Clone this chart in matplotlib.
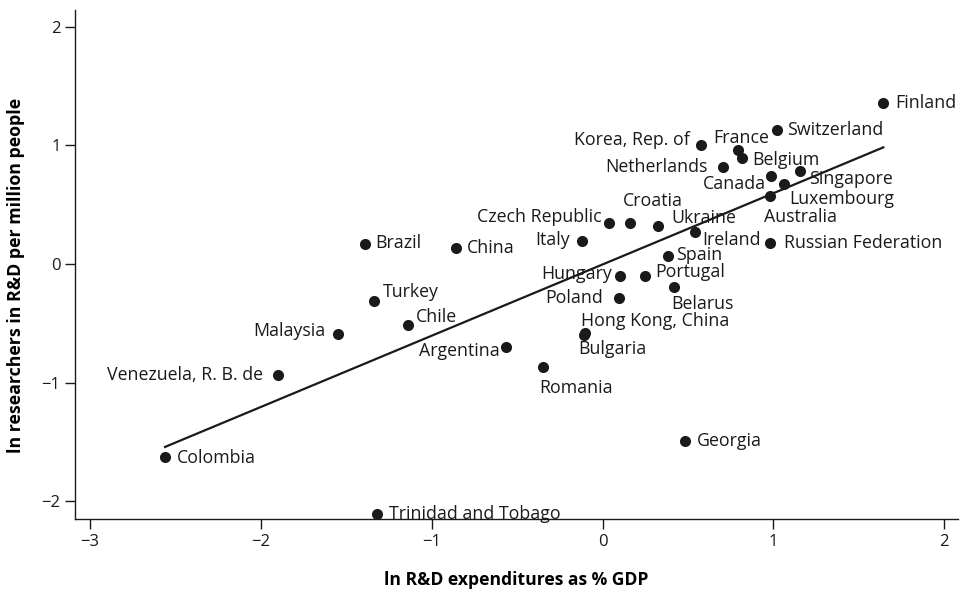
import matplotlib
matplotlib.use("Agg")
import matplotlib.pyplot as plt
import numpy as np

countries = ["Finland", "Switzerland", "Korea, Rep. of", "France", "Belgium", "Netherlands",
             "Singapore", "Canada", "Luxembourg", "Australia", "Russian Federation", "Ireland",
             "Ukraine", "Croatia", "Czech Republic", "Italy", "China", "Brazil", "Spain",
             "Hungary", "Portugal", "Belarus", "Poland", "Hong Kong, China", "Bulgaria",
             "Argentina", "Romania", "Turkey", "Chile", "Malaysia", "Venezuela, R. B. de",
             "Colombia", "Georgia", "Trinidad and Tobago"]
rd_exp = [1.643, 1.023, 0.573, 0.795, 0.813, 0.702,
          1.158, 0.988, 1.064, 0.977, 0.982, 0.538,
          0.327, 0.158, 0.035, -0.123, -0.860, -1.392, 0.380,
          0.099, 0.246, 0.415, 0.094, -0.111, -0.105,
          -0.567, -0.351, -1.339, -1.140, -1.550, -1.901,
          -2.561, 0.480, -1.322]
researchers = [1.359, 1.131, 1.004, 0.962, 0.895, 0.819,
               0.785, 0.743, 0.675, 0.574, 0.177, 0.270,
               0.320, 0.346, 0.346, 0.194, 0.135, 0.169, 0.068,
               -0.101, -0.101, -0.194, -0.287, -0.599, -0.585,
               -0.700, -0.869, -0.312, -0.515, -0.591, -0.937,
               -1.629, -1.494, -2.110]

# label placement (pixel offsets: dx right, dy down) and alignment
label_pos = {
    "Finland": (12, 0, "left"), "Switzerland": (10, 0, "left"),
    "Korea, Rep. of": (-11, -5, "right"), "France": (3, -12, "center"),
    "Belgium": (11, 2, "left"), "Netherlands": (-15, 0, "right"),
    "Singapore": (9, 8, "left"), "Canada": (-5, 8, "right"),
    "Luxembourg": (5, 15, "left"), "Australia": (-6, 21, "left"),
    "Russian Federation": (14, 0, "left"), "Ireland": (8, 8, "left"),
    "Ukraine": (13, -8, "left"), "Croatia": (-7, -22, "left"),
    "Czech Republic": (-7, -6, "right"), "Italy": (-12, -1, "right"),
    "China": (11, 0, "left"), "Brazil": (10, -1, "left"), "Spain": (9, -1, "left"),
    "Hungary": (-8, -2, "right"), "Portugal": (11, -4, "left"),
    "Belarus": (-2, 17, "left"), "Poland": (-16, 0, "right"),
    "Hong Kong, China": (-3, -14, "left"), "Bulgaria": (-6, 16, "left"),
    "Argentina": (-6, 4, "right"), "Romania": (-3, 21, "left"),
    "Turkey": (9, -9, "left"), "Chile": (8, -8, "left"),
    "Malaysia": (-12, -3, "right"), "Venezuela, R. B. de": (-15, 0, "right"),
    "Colombia": (12, 1, "left"), "Georgia": (12, 0, "left"),
    "Trinidad and Tobago": (12, 0, "left"),
}

plt.rcParams['font.family'] = ['Open Sans', 'DejaVu Sans']

fig = plt.figure(figsize=(9.61, 5.95), dpi=100)
ax = fig.add_axes([75/961, 1 - 519/595, (958 - 75)/961, (519 - 10)/595])

x = np.array(rd_exp)
y = np.array(researchers)
ax.scatter(x, y, s=64, color="#1a1a1a", zorder=3, linewidths=0)

slope, intercept = np.polyfit(x, y, 1)
xl = np.array([x.min(), x.max()])
ax.plot(xl, intercept + slope * xl, color="#1a1a1a", lw=1.6, zorder=2)

for name, xi, yi in zip(countries, rd_exp, researchers):
    dx, dy, ha = label_pos[name]
    ax.annotate(name, (xi, yi), xytext=(dx, -dy), textcoords="offset pixels",
                ha=ha, va="center", fontsize=12.8, color="#1a1a1a")

ax.set_xlim(-3.088, 2.08)
ax.set_ylim(-2.15, 2.14)
ax.set_xticks([-3, -2, -1, 0, 1, 2])
ax.set_yticks([-2, -1, 0, 1, 2])
ax.set_xticklabels(["\u22123", "\u22122", "\u22121", "0", "1", "2"])
ax.set_yticklabels(["\u22122", "\u22121", "0", "1", "2"])
ax.tick_params(direction="out", length=7, width=1, labelsize=12, colors="#1a1a1a")
for s in ["top", "right"]:
    ax.spines[s].set_visible(False)
for s in ["left", "bottom"]:
    ax.spines[s].set_linewidth(1)
    ax.spines[s].set_color("#1a1a1a")

ax.set_xlabel("ln R&D expenditures as % GDP", fontsize=12.6, fontweight="bold")
ax.set_ylabel("ln researchers in R&D per million people", fontsize=12.8, fontweight="bold")
ax.xaxis.set_label_coords(0.5, -0.12, transform=ax.transAxes)
ax.yaxis.set_label_coords(-0.067, 0.479, transform=ax.transAxes)
ax.xaxis.label.set_va("center")
ax.yaxis.label.set_va("center")

fig.savefig("out.png", dpi=100)
